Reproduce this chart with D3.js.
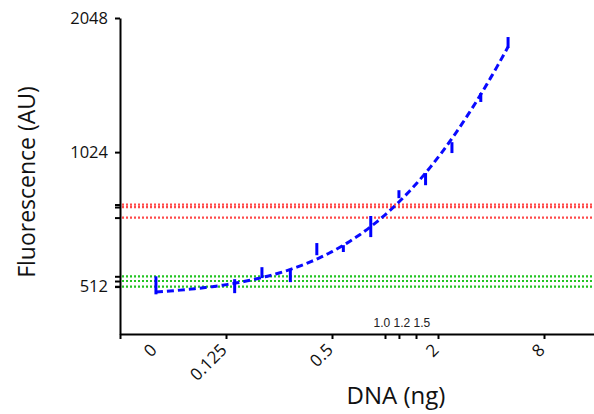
<!DOCTYPE html>
<html>
<head>
<meta charset="utf-8">
<script src="https://cdn.jsdelivr.net/npm/d3@7"></script>
<style>
  html, body { margin: 0; padding: 0; background: #fff; }
  #chart { width: 594px; height: 414px; }
</style>
</head>
<body>
<div id="chart"></div>
<script>
// Data
const doses       = [0.05, 0.14, 0.2, 0.29, 0.41, 0.58, 0.83, 1.2, 1.7, 2.4, 3.5, 5.0];
const fluorMean   = [515, 512, 549, 541, 620, 622, 698, 824, 891, 1048, 1358, 1805];
const fluorLow    = [491, 494, 534, 523, 601, 611, 660, 807, 863, 1019, 1327, 1754];
const fluorHigh   = [539, 531, 565, 559, 640, 633, 736, 841, 919, 1078, 1390, 1856];

const redLines    = [781, 771, 730];
const greenLines  = [539, 526, 511];

const xTickValues = [0.125, 0.5, 2, 8];
const xTickLabels = ['0.125', '0.5', '2', '8'];
const zeroLabel   = '0';
const minorTicks  = [1.0, 1.2, 1.5];
const minorLabel  = '1.0 1.2 1.5';
const yTickValues = [512, 1024, 2048];

// Layout
const W      = 594;
const H      = 414;
const plotL  = 120;
const plotT  = 18;
const plotB  = 334;
const font   = '"Open Sans", "Noto Sans", sans-serif';

const svg = d3.select('#chart')
  .append('svg')
    .attr('width', W)
    .attr('height', H);

const x = d3.scaleLog().base(2)
  .domain([1 / 32, 16])
  .range([plotL, 597]);

const y = d3.scaleLog().base(2)
  .domain([400, 2048])
  .range([plotB, plotT]);

// Reference lines (dotted)
svg.append('g')
  .selectAll('line')
  .data(redLines.map(v => ({ v, c: '#ff4a4a' })).concat(greenLines.map(v => ({ v, c: '#22c322' }))))
  .join('line')
    .attr('x1', plotL + 2)
    .attr('x2', W)
    .attr('y1', d => y(d.v))
    .attr('y2', d => y(d.v))
    .attr('stroke', d => d.c)
    .attr('stroke-width', 2.2)
    .attr('stroke-dasharray', '2,2');

// Linear fit of mean vs dose
const mx = d3.mean(doses);
const my = d3.mean(fluorMean);
const slope = d3.sum(doses, (d, i) => (d - mx) * (fluorMean[i] - my)) /
              d3.sum(doses, d => (d - mx) * (d - mx));
const intercept = my - slope * mx;

// sample the fit evenly along the log axis between first and last dose
const lo = Math.log2(doses[0]);
const hi = Math.log2(doses[doses.length - 1]);
const fitPts = d3.range(0, 101).map(i => Math.pow(2, lo + (hi - lo) * i / 100));

const line = d3.line()
  .x(d => x(d))
  .y(d => y(intercept + slope * d));

svg.append('path')
  .datum(fitPts)
  .attr('d', line)
  .attr('fill', 'none')
  .attr('stroke', '#0a0aff')
  .attr('stroke-width', 3)
  .attr('stroke-dasharray', '7,4');

// Error bars
svg.append('g')
  .selectAll('line')
  .data(doses)
  .join('line')
    .attr('x1', d => x(d))
    .attr('x2', d => x(d))
    .attr('y1', (d, i) => y(fluorLow[i]))
    .attr('y2', (d, i) => y(fluorHigh[i]))
    .attr('stroke', '#0000ff')
    .attr('stroke-width', 3);

// Y axis
const yAxis = svg.append('g')
  .attr('transform', `translate(${plotL},0)`)
  .call(d3.axisLeft(y)
    .tickValues(yTickValues)
    .tickFormat(d3.format('d'))
    .tickSize(5)
    .tickSizeOuter(0)
    .tickPadding(7));

yAxis.select('.domain').attr('stroke-width', 2);
yAxis.selectAll('.tick line').attr('stroke-width', 2);
yAxis.selectAll('.tick text')
  .attr('font-family', font)
  .attr('font-size', 16.5)
  .attr('fill', '#111');

// small ticks for the reference lines
const refAxis = svg.append('g')
  .attr('transform', `translate(${plotL},0)`)
  .call(d3.axisLeft(y)
    .tickValues(redLines.concat(greenLines))
    .tickFormat('')
    .tickSize(5)
    .tickSizeOuter(0));
refAxis.select('.domain').remove();
refAxis.selectAll('.tick line').attr('stroke-width', 2);

// X axis
const xAxis = svg.append('g')
  .attr('transform', `translate(0,${plotB})`)
  .call(d3.axisBottom(x)
    .tickValues([1 / 32].concat(xTickValues, minorTicks))
    .tickFormat('')
    .tickSize(5)
    .tickSizeOuter(0));

xAxis.select('.domain').attr('stroke-width', 2);
xAxis.selectAll('.tick line').attr('stroke-width', 2);

// rotated labels
const labelData = [{ v: doses[0], t: zeroLabel }]
  .concat(xTickValues.map((v, i) => ({ v, t: xTickLabels[i] })));

svg.append('g')
  .selectAll('text')
  .data(labelData)
  .join('text')
    .attr('transform', d => `translate(${x(d.v) + 2},${plotB + 17}) rotate(-45)`)
    .attr('text-anchor', 'end')
    .attr('font-family', font)
    .attr('font-size', 17)
    .attr('fill', '#111')
    .text(d => d.t);

// minor labels above the axis
svg.append('text')
  .attr('x', x(minorTicks[1]) + 3)
  .attr('y', plotB - 7)
  .attr('text-anchor', 'middle')
  .attr('font-family', '"Liberation Sans", Arial, sans-serif')
  .attr('font-size', 12)
  .attr('fill', '#222')
  .text(minorLabel);

// Axis titles
svg.append('text')
  .attr('x', 396)
  .attr('y', 404)
  .attr('text-anchor', 'middle')
  .attr('font-family', font)
  .attr('font-size', 24)
  .attr('fill', '#111')
  .text('DNA (ng)');

svg.append('text')
  .attr('transform', 'translate(35,182) rotate(-90)')
  .attr('text-anchor', 'middle')
  .attr('font-family', font)
  .attr('font-size', 23)
  .attr('fill', '#111')
  .text('Fluorescence (AU)');
</script>
</body>
</html>
